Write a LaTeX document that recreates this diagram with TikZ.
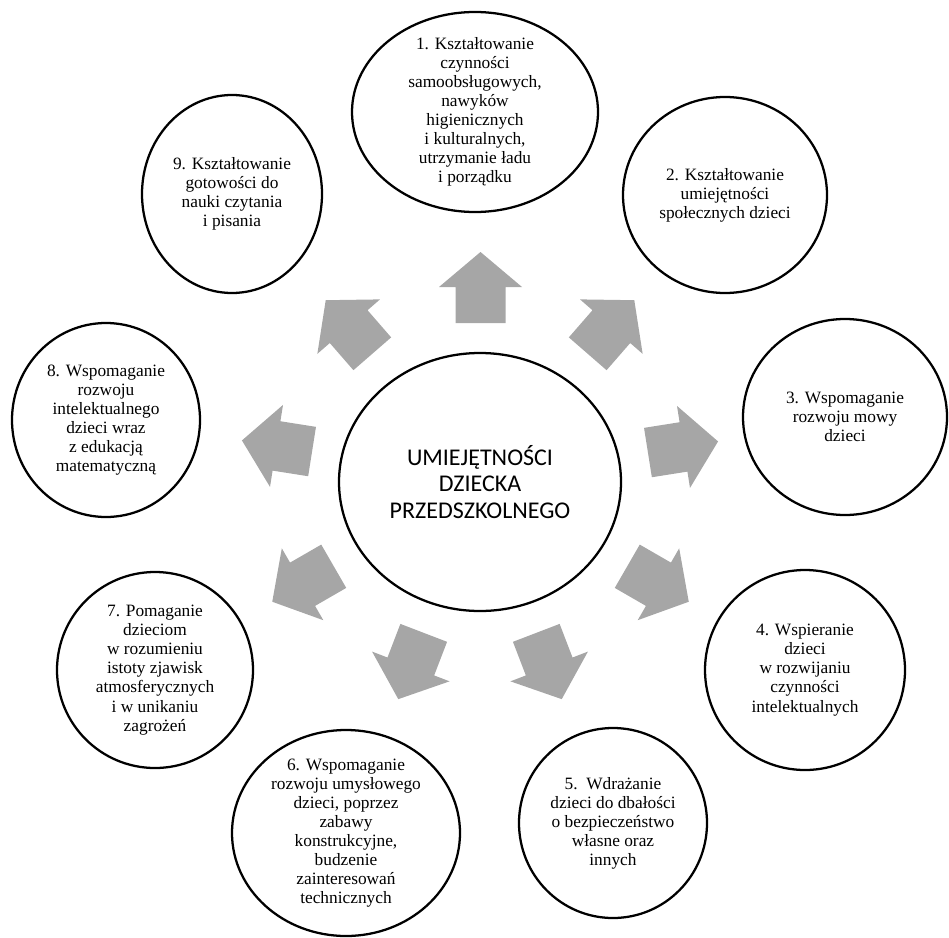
\documentclass[tikz,border=0pt]{standalone}
\usepackage{fontspec}
\setmainfont{Liberation Serif}
\newfontfamily\calibri{Carlito}
\usetikzlibrary{shapes.geometric}
\definecolor{arrowgray}{RGB}{166,166,166}

\begin{document}
\begin{tikzpicture}[x=0.75pt,y=-0.75pt,
  bubble/.style={ellipse, draw, line width=1.7pt, align=center, inner sep=-8pt,
    font=\fontsize{13}{14.3}\selectfont}]
  \useasboundingbox (0,0) rectangle (949,938);

  \node [bubble, minimum width=211.5pt, minimum height=193.5pt,
    font=\calibri\fontsize{18}{20}\selectfont] (centre) at (480,482)
    {UMIEJĘTNOŚCI\\DZIECKA\\PRZEDSZKOLNEGO};

  \node [bubble, minimum width=184.5pt, minimum height=150pt] (c1) at (475,112)
    {1. Kształtowanie\\czynności\\samoobsługowych,\\nawyków\\higienicznych\\i kulturalnych,\\utrzymanie ładu\\i porządku};
  \node [bubble, minimum width=153pt, minimum height=147pt] (c2) at (725,195)
    {2. Kształtowanie\\umiejętności\\społecznych dzieci};
  \node [bubble, minimum width=153pt, minimum height=147pt] (c3) at (845,417)
    {3. Wspomaganie\\rozwoju mowy\\dzieci};
  \node [bubble, minimum width=150pt, minimum height=150pt] (c4) at (805,670)
    {4. Wspieranie\\dzieci\\w rozwijaniu\\czynności\\intelektualnych};
  \node [bubble, minimum width=141pt, minimum height=142.5pt] (c5) at (613,823)
    {5.\ \ Wdrażanie\\dzieci do dbałości\\o bezpieczeństwo\\własne oraz\\innych};
  \node [bubble, minimum width=171pt, minimum height=154.5pt] (c6) at (346,833)
    {6. Wspomaganie\\rozwoju umysłowego\\dzieci, poprzez\\zabawy\\konstrukcyjne,\\budzenie\\zainteresowań\\technicznych};
  \node [bubble, minimum width=147pt, minimum height=147pt] (c7) at (155,670)
    {7. Pomaganie\\dzieciom\\w rozumieniu\\istoty zjawisk\\atmosferycznych\\i w unikaniu\\zagrożeń};
  \node [bubble, minimum width=141pt, minimum height=145.5pt] (c8) at (106,420)
    {8. Wspomaganie\\rozwoju\\intelektualnego\\dzieci wraz\\z edukacją\\matematyczną};
  \node [bubble, minimum width=135pt, minimum height=148.5pt] (c9) at (232,194)
    {9. Kształtowanie\\gotowości do\\nauki czytania\\i pisania};

  % block arrows round the centre
  \foreach \cx/\cy/\ang in {480.5/287.5/90, 611/327/49, 683/447/9, 658/584/-30,
      549/666/-69, 411/666/249, 303/584/210, 277/446/171, 349/327/131}
    \fill [arrowgray, shift={(\cx,\cy)}, rotate=\ang]
      (-35.5,-25) -- (0.5,-25) -- (0.5,-41.5) -- (35.5,0) -- (0.5,41.5) -- (0.5,25) -- (-35.5,25) -- cycle;
\end{tikzpicture}
\end{document}
